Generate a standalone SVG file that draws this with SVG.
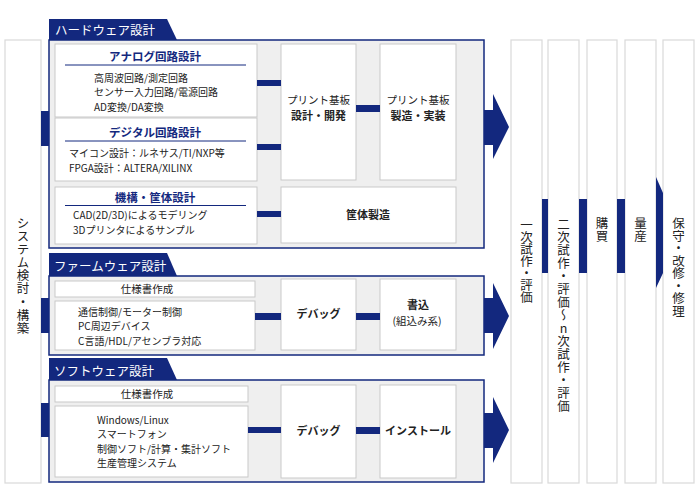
<svg xmlns="http://www.w3.org/2000/svg" width="700" height="500" viewBox="0 0 700 500">
<style>
.panel{fill:#efefef;stroke:#13287e;stroke-width:1.5}
.box{fill:#fff;stroke:#c9c9c9;stroke-width:1}
.col{fill:#fff;stroke:#d9d9d9;stroke-width:1.2}
.navy{fill:#13287e}
.rule{stroke:#13287e;stroke-width:1}
text{font-family:"Noto Sans CJK JP","Noto Sans",sans-serif;fill:#222}
.t{font-size:10px}
.c{font-size:10.5px;text-anchor:middle}
.h{font-size:11.5px;font-weight:bold;fill:#13287e;text-anchor:middle}
.tab{font-size:12.5px;fill:#fff}
.b{font-size:11px;font-weight:bold;text-anchor:middle}
.v{font-size:12.5px;writing-mode:vertical-rl}
</style>
<rect width="700" height="500" fill="#fff"/>

<g id="system">
<rect class="col" x="5" y="40" width="36" height="443"/>
<text class="v" x="23" y="217" style="letter-spacing:0.6px">システム検討・構築</text>
</g>

<g id="hardware">
<path class="navy" d="M49,19 H167 L177,40 H49 Z"/>
<text class="tab" x="55" y="35">ハードウェア設計</text>
<rect class="panel" x="49" y="40" width="435" height="208"/>
</g>
<g id="analog">
<rect class="box" x="55" y="44" width="202" height="73"/>
<text class="h" x="155" y="61">アナログ回路設計</text>
<line class="rule" x1="65" y1="65" x2="246" y2="65"/>
<text class="t"><tspan x="94" y="81.5">高周波回路/測定回路</tspan><tspan x="94" y="96.1">センサー入力回路/電源回路</tspan><tspan x="94" y="110.7">AD変換/DA変換</tspan></text>
</g>
<g id="digital">
<rect class="box" x="55" y="118" width="202" height="63"/>
<text class="h" x="155" y="137">デジタル回路設計</text>
<line class="rule" x1="65" y1="141" x2="246" y2="141"/>
<text class="t"><tspan x="69" y="157">マイコン設計：ルネサス/TI/NXP等</tspan><tspan x="69" y="171.6">FPGA設計：ALTERA/XILINX</tspan></text>
</g>
<g id="mech">
<rect class="box" x="55" y="187" width="202" height="57"/>
<text class="h" x="155" y="202">機構・筐体設計</text>
<line class="rule" x1="65" y1="205.5" x2="246" y2="205.5"/>
<text class="t"><tspan x="73" y="219">CAD(2D/3D)によるモデリング</tspan><tspan x="73" y="233.6">3Dプリンタによるサンプル</tspan></text>
</g>
<g id="pcb-design">
<rect class="box" x="281" y="44" width="75" height="136"/>
<text class="c" x="318.5" y="104">プリント基板</text>
<text class="b" x="318.5" y="120">設計・開発</text>
</g>
<g id="pcb-make">
<rect class="box" x="380" y="44" width="76" height="136"/>
<text class="c" x="418" y="104">プリント基板</text>
<text class="b" x="418" y="120">製造・実装</text>
</g>
<g id="case-make">
<rect class="box" x="281" y="187" width="175" height="56"/>
<text class="b" x="368" y="219">筐体製造</text>
</g>

<g id="firmware">
<path class="navy" d="M49,253 H167 L177,276 H49 Z"/>
<text class="tab" x="54" y="271">ファームウェア設計</text>
<rect class="panel" x="49" y="276" width="435" height="79"/>
</g>
<g id="fw-spec">
<rect class="box" x="55" y="281" width="200" height="16"/>
<text class="c" x="147" y="293">仕様書作成</text>
</g>
<g id="fw-content">
<rect class="box" x="55" y="301" width="200" height="49"/>
<text class="t"><tspan x="78" y="315.5">通信制御/モーター制御</tspan><tspan x="78" y="330.1">PC周辺デバイス</tspan><tspan x="78" y="344.7">C言語/HDL/アセンブラ対応</tspan></text>
</g>
<g id="fw-debug">
<rect class="box" x="281" y="279" width="75" height="71"/>
<text class="b" x="318.5" y="318">デバッグ</text>
</g>
<g id="fw-write">
<rect class="box" x="380" y="279" width="76" height="71"/>
<text class="b" x="418" y="309">書込</text>
<text class="c" x="417" y="325">(組込み系)</text>
</g>

<g id="software">
<path class="navy" d="M49,358 H167 L177,380 H49 Z"/>
<text class="tab" x="54" y="376">ソフトウェア設計</text>
<rect class="panel" x="49" y="380" width="435" height="102"/>
</g>
<g id="sw-spec">
<rect class="box" x="55" y="386" width="193" height="16"/>
<text class="c" x="147" y="398">仕様書作成</text>
</g>
<g id="sw-content">
<rect class="box" x="55" y="406" width="193" height="71"/>
<text class="t"><tspan x="97" y="423.5">Windows/Linux</tspan><tspan x="97" y="438.1">スマートフォン</tspan><tspan x="97" y="452.7">制御ソフト/計算・集計ソフト</tspan><tspan x="97" y="467.3">生産管理システム</tspan></text>
</g>
<g id="sw-debug">
<rect class="box" x="281" y="385" width="75" height="93"/>
<text class="b" x="318.5" y="435">デバッグ</text>
</g>
<g id="sw-install">
<rect class="box" x="380" y="385" width="76" height="93"/>
<text class="b" x="418" y="435">インストール</text>
</g>

<g id="proto1">
<rect class="col" x="511" y="40" width="31" height="443"/>
<text class="v" x="526.5" y="219" style="letter-spacing:-0.5px">一次試作・評価</text>
</g>
<g id="proto2">
<rect class="col" x="548" y="40" width="31" height="443"/>
<text class="v" x="563.5" y="218" style="letter-spacing:0.5px">二次試作・評価～<tspan style="text-orientation:upright">n</tspan>次試作・評価</text>
</g>
<g id="purchase">
<rect class="col" x="587" y="40" width="30" height="443"/>
<text class="v" x="602" y="217" style="letter-spacing:0.5px">購買</text>
</g>
<g id="mass">
<rect class="col" x="625" y="40" width="31" height="443"/>
<text class="v" x="640.5" y="217" style="letter-spacing:0.5px">量産</text>
</g>
<g id="maint">
<rect class="col" x="663" y="40" width="31" height="443"/>
<text class="v" x="678.5" y="217">保守・改修・修理</text>
</g>

<g id="connectors" class="navy">
<rect x="41" y="111" width="8" height="35"/>
<rect x="41" y="298" width="8" height="35"/>
<rect x="41" y="403" width="8" height="34"/>
<rect x="257" y="80" width="24" height="6"/>
<rect x="257" y="144" width="24" height="6"/>
<rect x="257" y="211" width="24" height="6"/>
<rect x="356" y="105" width="24" height="7"/>
<rect x="255" y="313" width="26" height="7"/>
<rect x="356" y="313" width="24" height="7"/>
<rect x="248" y="427" width="33" height="6"/>
<rect x="356" y="427" width="24" height="7"/>
<polygon points="484,110 493,110 493,94 509,127 493,159 493,145 484,145"/>
<polygon points="484,298 493,298 493,283 509,316 493,349 493,333 484,333"/>
<polygon points="484,413 493,413 493,397 509,430 493,463 493,448 484,448"/>
<rect x="542" y="199" width="6" height="74"/>
<rect x="579" y="199" width="8" height="74"/>
<rect x="617" y="199" width="8" height="74"/>
<polygon points="656,177 663,193 663,273 656,288"/>
</g>
</svg>
